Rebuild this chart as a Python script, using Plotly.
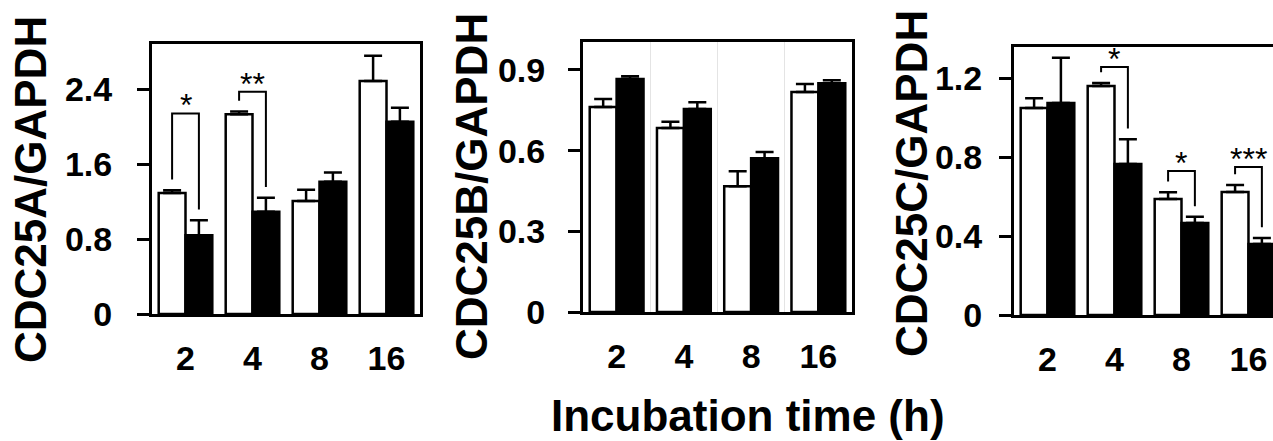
import plotly.graph_objects as go

# ---------------- data ----------------
categories = ["2", "4", "8", "16"]

a_ctrl = [1.29, 2.13, 1.205, 2.485]
a_ctrl_err = [0.03, 0.03, 0.12, 0.27]
a_trt = [0.84, 1.09, 1.41, 2.05]
a_trt_err = [0.16, 0.15, 0.10, 0.15]

b_ctrl = [0.762, 0.684, 0.468, 0.818]
b_ctrl_err = [0.03, 0.023, 0.055, 0.03]
b_trt = [0.866, 0.755, 0.572, 0.851]
b_trt_err = [0.011, 0.025, 0.023, 0.011]

c_ctrl = [1.048, 1.16, 0.587, 0.623]
c_ctrl_err = [0.05, 0.015, 0.035, 0.035]
c_trt = [1.073, 0.765, 0.466, 0.36]
c_trt_err = [0.23, 0.125, 0.031, 0.03]

# significance brackets: (group index, bracket height, label)
a_sig_groups = [0, 1]
a_sig_tops = [2.14, 2.37]
a_sig_labels = ["*", "**"]
c_sig_groups = [1, 2, 3]
c_sig_tops = [1.256, 0.729, 0.749]
c_sig_labels = ["*", "*", "***"]

a_ticks = [0, 0.8, 1.6, 2.4]
a_ticktext = ["0", "0.8", "1.6", "2.4"]
b_ticks = [0, 0.3, 0.6, 0.9]
b_ticktext = ["0", "0.3", "0.6", "0.9"]
c_ticks = [0, 0.4, 0.8, 1.2]
c_ticktext = ["0", "0.4", "0.8", "1.2"]

y_titles = ["CDC25A/GAPDH", "CDC25B/GAPDH", "CDC25C/GAPDH"]
x_title = "Incubation time (h)"

# ---------------- layout helpers ----------------
W, H = 1273, 441
FONT = "Liberation Sans, Arial, Helvetica, sans-serif"

def px_x(p):
    return p / W

def px_y(p):
    return 1 - p / H

panels = [
    dict(ctrl=a_ctrl, ce=a_ctrl_err, trt=a_trt, te=a_trt_err, rng=2.88,
         ticks=a_ticks, ticktext=a_ticktext,
         sig=(a_sig_groups, a_sig_tops, a_sig_labels),
         dom_x=(152, 420), dom_y=(44, 314), xr=3.5, standoff=18,
         mirror_y=True, grid=False, title_x=31, title_y=190),
    dict(ctrl=b_ctrl, ce=b_ctrl_err, trt=b_trt, te=b_trt_err, rng=1.004,
         ticks=b_ticks, ticktext=b_ticktext, sig=None,
         dom_x=(583, 852), dom_y=(42, 312), xr=3.5, standoff=16,
         mirror_y=True, grid=True, title_x=471, title_y=186),
    dict(ctrl=c_ctrl, ce=c_ctrl_err, trt=c_trt, te=c_trt_err, rng=1.357,
         ticks=c_ticks, ticktext=c_ticktext,
         sig=(c_sig_groups, c_sig_tops, c_sig_labels),
         dom_x=(1014, 1273), dom_y=(47, 315), xr=3.366, standoff=10,
         mirror_y=False, grid=False, title_x=912, title_y=184),
]

fig = go.Figure()
annotations = []
xs = list(range(len(categories)))
layout_axes = {}

for k, p in enumerate(panels):
    n = "" if k == 0 else str(k + 1)
    xa, ya = "x" + n, "y" + n
    err_style = dict(type="data", symmetric=False, color="black", thickness=2.5, width=9)
    fig.add_trace(go.Bar(
        x=xs, y=p["ctrl"], xaxis=xa, yaxis=ya, offsetgroup="c",
        marker=dict(color="white", line=dict(color="black", width=2.5)),
        error_y=dict(array=p["ce"], arrayminus=[0] * len(xs), **err_style),
        showlegend=False))
    fig.add_trace(go.Bar(
        x=xs, y=p["trt"], xaxis=xa, yaxis=ya, offsetgroup="t",
        marker=dict(color="black", line=dict(color="black", width=2.5)),
        error_y=dict(array=p["te"], arrayminus=[0] * len(xs), **err_style),
        showlegend=False))

    if p["sig"]:
        pad = 0.04 * p["rng"]
        for g, top, lab in zip(*p["sig"]):
            lb = p["ctrl"][g] + p["ce"][g] + pad
            rb = p["trt"][g] + p["te"][g] + pad
            fig.add_trace(go.Scatter(
                x=[g - 0.2, g - 0.2, g + 0.2, g + 0.2], y=[lb, top, top, rb],
                xaxis=xa, yaxis=ya, mode="lines",
                line=dict(color="black", width=2), showlegend=False,
                hoverinfo="skip"))
            annotations.append(dict(
                x=g, y=top, xref=xa, yref=ya, text=lab, showarrow=False,
                yanchor="bottom", xanchor="center", yshift=-12,
                font=dict(family=FONT, size=32, color="black")))

    annotations.append(dict(
        x=px_x(p["title_x"]), y=px_y(p["title_y"]), xref="paper", yref="paper",
        text=y_titles[k], textangle=-90, showarrow=False,
        xanchor="center", yanchor="middle",
        font=dict(family=FONT, size=44, color="black", weight="bold")))

    xkey = "xaxis" + n
    ykey = "yaxis" + n
    minor = dict(tickvals=[i + 0.5 for i in range(len(xs) - 1)],
                 showgrid=True, gridcolor="#e4e4e4", gridwidth=1, ticks="") if p["grid"] else None
    xaxis = dict(
        domain=[px_x(p["dom_x"][0]), px_x(p["dom_x"][1])],
        anchor=ya, range=[-0.5, p["xr"]], automargin=False,
        tickmode="array", tickvals=xs, ticktext=categories,
        showgrid=False, zeroline=False, ticks="",
        showline=True, linecolor="black", linewidth=3, mirror=True,
        ticklabelstandoff=12,
        tickfont=dict(family=FONT, size=34, color="black", weight="bold"),
        fixedrange=True)
    if minor:
        xaxis["minor"] = minor
    layout_axes[xkey] = xaxis
    layout_axes[ykey] = dict(
        domain=[px_y(p["dom_y"][1]), px_y(p["dom_y"][0])],
        anchor=xa, range=[0, p["rng"]], automargin=False,
        tickmode="array", tickvals=p["ticks"], ticktext=p["ticktext"],
        showgrid=False, zeroline=False,
        ticks="outside", ticklen=12, tickwidth=3, tickcolor="black",
        showline=True, linecolor="black", linewidth=3, mirror=p["mirror_y"],
        ticklabelstandoff=p["standoff"],
        tickfont=dict(family=FONT, size=34, color="black", weight="bold"),
        fixedrange=True)

annotations.append(dict(
    x=px_x(748), y=px_y(415), xref="paper", yref="paper", text=x_title,
    showarrow=False, xanchor="center", yanchor="middle",
    font=dict(family=FONT, size=44, color="black", weight="bold")))

fig.update_layout(
    width=W, height=H, margin=dict(l=0, r=0, t=0, b=0, autoexpand=False),
    paper_bgcolor="white", plot_bgcolor="white",
    barmode="group", bargap=0.2, bargroupgap=0,
    annotations=annotations, showlegend=False, **layout_axes)

fig.write_html(
    "out.html",
    config={"displayModeBar": False},
    post_script="document.body.style.margin='0';document.body.style.overflow='hidden';")
